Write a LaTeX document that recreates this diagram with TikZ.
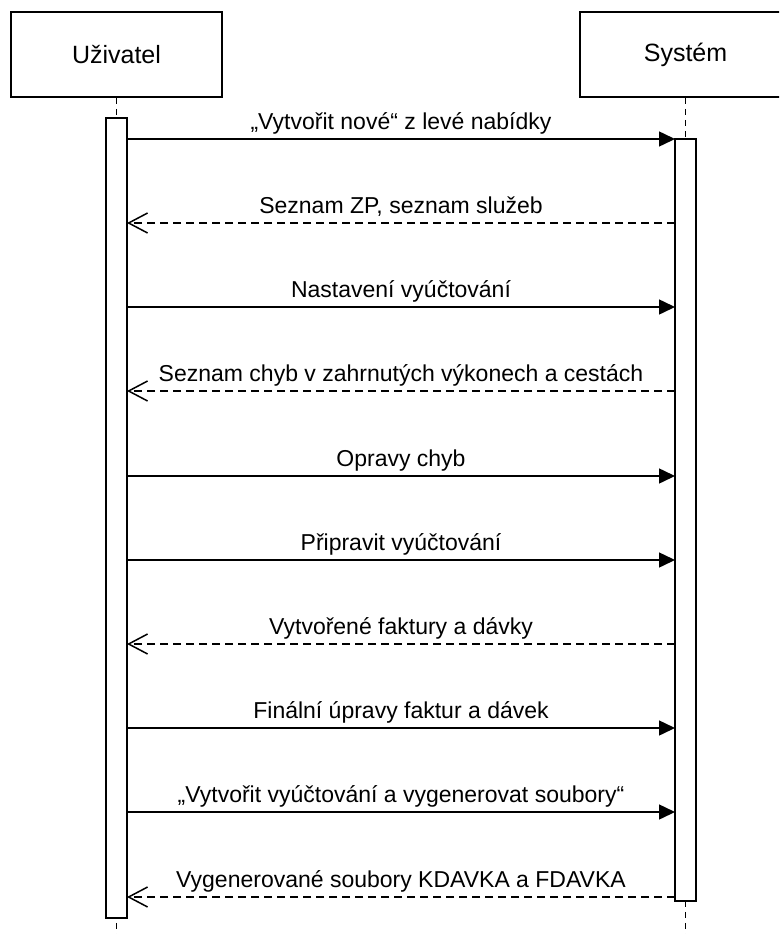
\documentclass[tikz,border=0pt]{standalone}
\usepackage{fontspec}
\setmainfont{Liberation Sans}
\usetikzlibrary{arrows.meta}

\tikzset{
  actor/.style={draw, line width=1.5pt, fill=white, minimum width=211pt, minimum height=85pt,
    inner sep=0pt, font=\fontsize{25}{29}\selectfont},
  activation/.style={draw, line width=1.5pt, fill=white, minimum width=21pt, inner sep=0pt},
  lifeline/.style={line width=1.5pt, dash pattern=on 6pt off 5pt},
  call/.style={line width=1.5pt, -{Triangle[length=16pt, width=15pt]}},
  reply/.style={line width=1.5pt, dash pattern=on 8pt off 5pt,
    -{Straight Barb[length=19pt, width=20pt, line width=1.5pt]}},
  msg/.style={anchor=base, yshift=10pt, inner sep=0pt, font=\fontsize{23}{27}\selectfont}
}

\begin{document}
\begin{tikzpicture}[x=1pt, y=-1pt]

      \path[use as bounding box] (0,0) rectangle (779,934);
      \begin{scope}
      \clip (0,0) rectangle (779,934);

      % ucastnici
      \node[actor] (user) at (116.5,54.5) {Uživatel};
      \node[actor] (sys)  at (685.5,54.5) {Systém};

      \coordinate (userend) at (116.5,934);
      \coordinate (sysend)  at (685.5,934);
      \draw[lifeline] (user.south) -- (userend);
      \draw[lifeline] (sys.south)  -- (sysend);

      \node[activation, minimum height=800pt] (useract) at (116.5,518) {};
      \node[activation, minimum height=762pt] (sysact)  at (685.5,520) {};

      % konce zprav
      \coordinate (u1)  at (127,139);  \coordinate (s1)  at (675,139);
      \coordinate (u2)  at (127,223);  \coordinate (s2)  at (675,223);
      \coordinate (u3)  at (127,307);  \coordinate (s3)  at (675,307);
      \coordinate (u4)  at (127,391);  \coordinate (s4)  at (675,391);
      \coordinate (u5)  at (127,476);  \coordinate (s5)  at (675,476);
      \coordinate (u6)  at (127,560);  \coordinate (s6)  at (675,560);
      \coordinate (u7)  at (127,644);  \coordinate (s7)  at (675,644);
      \coordinate (u8)  at (127,728);  \coordinate (s8)  at (675,728);
      \coordinate (u9)  at (127,812);  \coordinate (s9)  at (675,812);
      \coordinate (u10) at (127,897);  \coordinate (s10) at (675,897);

      % zpravy
      \path (u1)  edge[call]  node[msg] {„Vytvořit nové“ z levé nabídky} (s1);
      \path (s2)  edge[reply] node[msg] {Seznam ZP, seznam služeb} (u2);
      \path (u3)  edge[call]  node[msg] {Nastavení vyúčtování} (s3);
      \path (s4)  edge[reply] node[msg] {Seznam chyb v zahrnutých výkonech a cestách} (u4);
      \path (u5)  edge[call]  node[msg] {Opravy chyb} (s5);
      \path (u6)  edge[call]  node[msg] {Připravit vyúčtování} (s6);
      \path (s7)  edge[reply] node[msg] {Vytvořené faktury a dávky} (u7);
      \path (u8)  edge[call]  node[msg] {Finální úpravy faktur a dávek} (s8);
      \path (u9)  edge[call]  node[msg] {„Vytvořit vyúčtování a vygenerovat soubory“} (s9);
      \path (s10) edge[reply] node[msg] {Vygenerované soubory KDAVKA a FDAVKA} (u10);
      \end{scope}

    \end{tikzpicture}
\end{document}
